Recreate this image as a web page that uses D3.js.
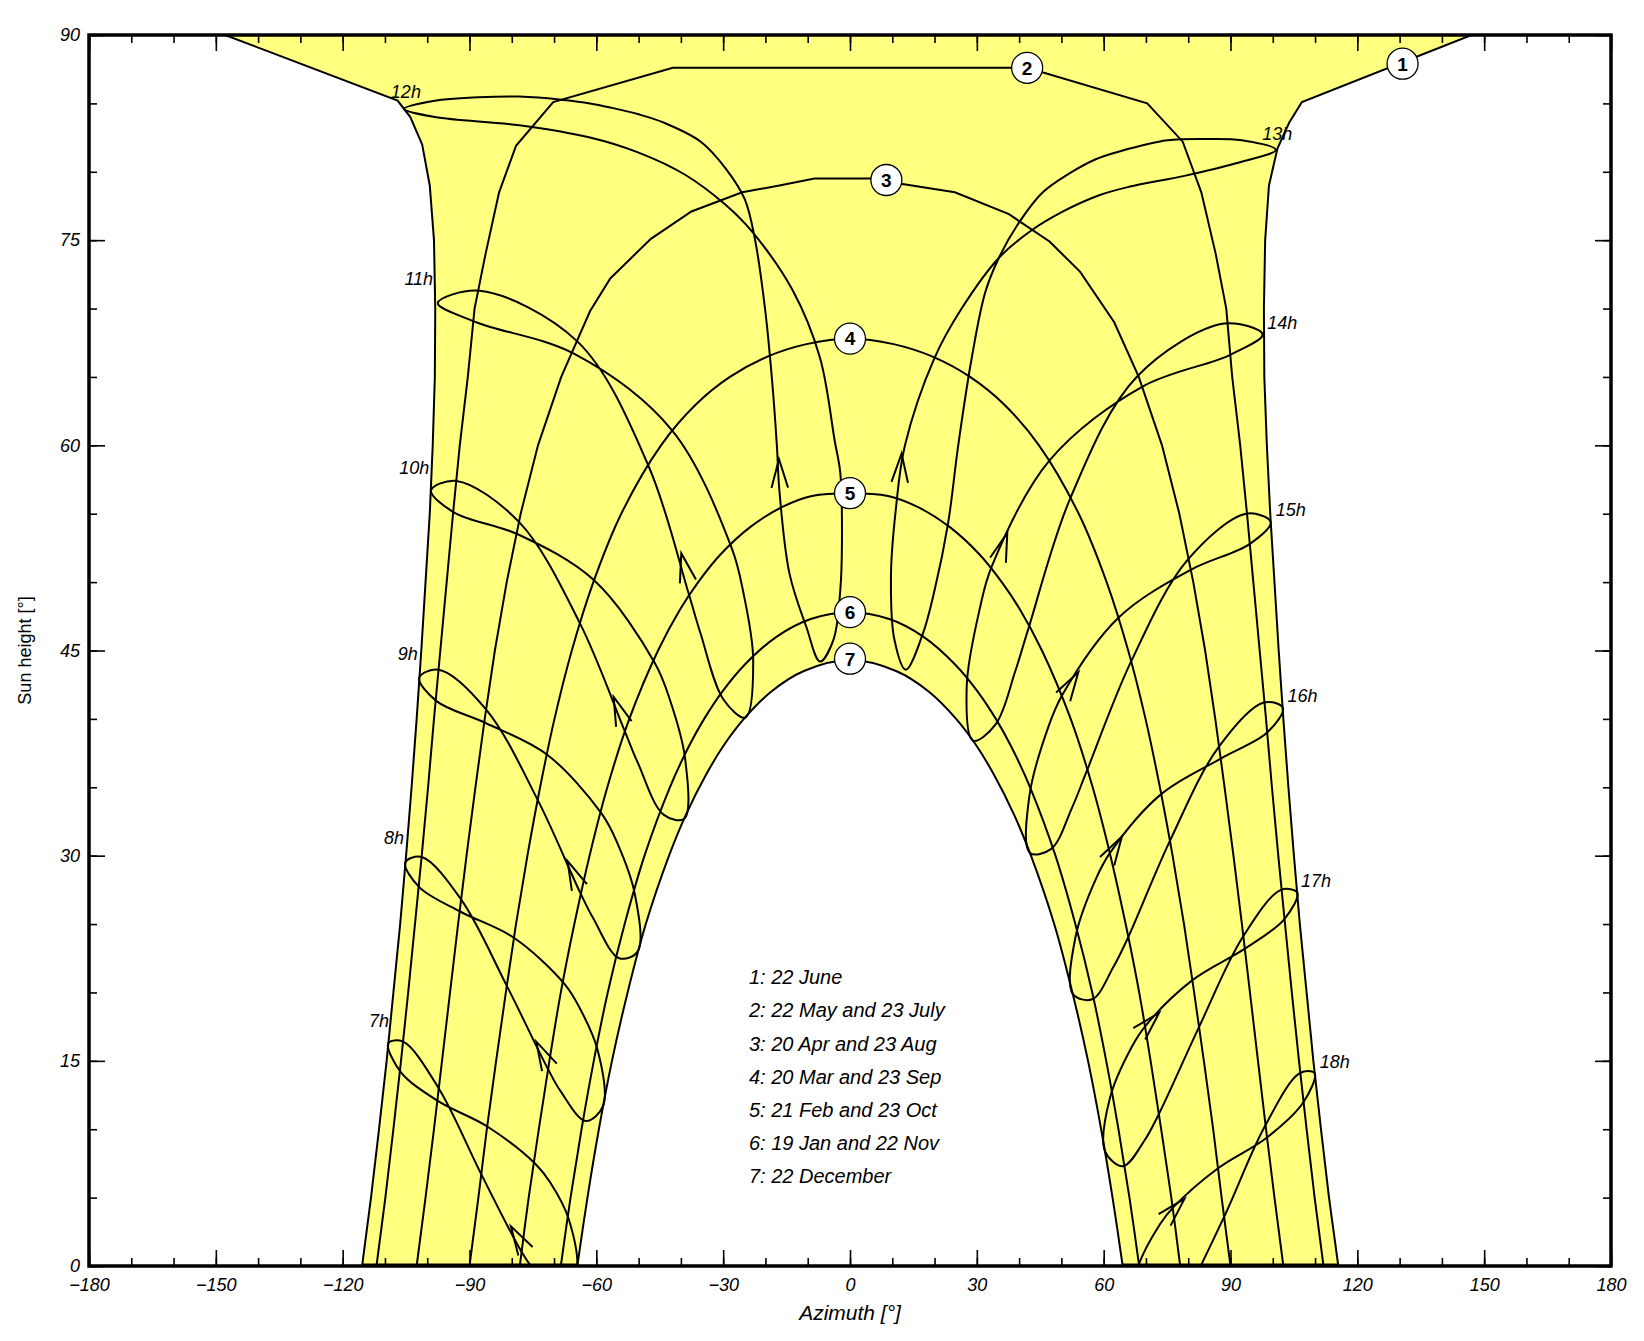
<!DOCTYPE html>
<html>
<head>
<meta charset="utf-8">
<script src="https://cdn.jsdelivr.net/npm/d3@7"></script>
<style>
body { margin: 0; background: #fff; }
text { font-family: "Liberation Sans", Arial, sans-serif; }
</style>
</head>
<body>
<div id="chart"></div>
<script>
// day curves, [azimuth, sun height]
const day1 = [[-115.4,0],[-113.3,5],[-111.4,10],[-109.6,15],[-108,20],[-106.4,25],[-105,30],[-103.7,35],[-102.5,40],[-101.4,45],[-100.4,50],[-99.4,55],[-98.7,60],[-98.2,65],[-98.1,70],[-98.4,75],[-99.4,79],[-101.2,82],[-104,84],[-107,85.2],[-147.8,90],[147,90],[106.9,85.1],[103.9,83.6],[101.1,81.7],[99.1,79],[98.2,75],[97.9,70],[98,65],[98.6,60],[99.4,55],[100.4,50],[101.4,45],[102.5,40],[103.7,35],[105,30],[106.4,25],[108,20],[109.6,15],[111.4,10],[113.3,5],[115.5,0]];
const day2 = [[-112,0],[-109.9,5],[-108,10],[-106.2,15],[-104.5,20],[-102.9,25],[-101.3,30],[-99.8,35],[-98.4,40],[-96.9,45],[-95.4,50],[-93.9,55],[-92.3,60],[-90.4,65],[-88.8,70],[-86.2,74],[-83,78.5],[-79,81.9],[-70.2,85.1],[-41.9,87.6],[41.9,87.6],[70.3,85],[78.7,82.2],[83.1,78.5],[86.5,74],[89,70],[90.4,65],[92.3,60],[93.9,55],[95.4,50],[96.9,45],[98.4,40],[99.8,35],[101.3,30],[102.9,25],[104.5,20],[106.2,15],[108,10],[109.9,5],[112,0]];
const day3 = [[-102.5,0],[-100.4,5],[-98.4,10],[-96.5,15],[-94.6,20],[-92.7,25],[-90.7,30],[-88.6,35],[-86.4,40],[-84,45],[-81.2,50],[-77.9,55],[-73.8,60],[-68.3,65],[-61.5,69.8],[-56.7,72.2],[-47.1,75.1],[-37.5,77.1],[-25.5,78.5],[-16.7,79],[-8.4,79.5],[8.6,79.5],[12.4,79.1],[24.8,78.5],[37.6,76.9],[47.2,74.9],[54.4,72.7],[62.5,69],[68.3,65],[73.8,60],[77.9,55],[81.2,50],[84,45],[86.4,40],[88.6,35],[90.7,30],[92.7,25],[94.6,20],[96.5,15],[98.4,10],[100.4,5],[102.5,0]];
const day4 = [[-90,0],[-87.9,5],[-85.9,10],[-83.7,15],[-81.4,20],[-79,25],[-76.3,30],[-73.3,35],[-69.9,40],[-65.8,45],[-60.7,50],[-54.1,55],[-44.7,60],[-36.4,63],[-28.4,65],[-19.4,66.5],[-10.3,67.4],[0,67.8],[10.3,67.4],[19.4,66.5],[28.4,65],[36.4,63],[44.7,60],[54.1,55],[60.7,50],[65.8,45],[69.9,40],[73.3,35],[76.3,30],[79,25],[81.4,20],[83.7,15],[85.9,10],[87.9,5],[90,0]];
const day5 = [[-78.1,0],[-76,5],[-73.6,10],[-71.1,15],[-68.4,20],[-65.2,25],[-61.6,30],[-57.4,35],[-52.2,40],[-45.4,45],[-40.2,48],[-35.9,50],[-30.7,52],[-23.7,54],[-16,55.5],[-9,56.3],[0,56.5],[9,56.3],[16,55.5],[23.7,54],[30.7,52],[35.9,50],[40.2,48],[45.4,45],[52.2,40],[57.4,35],[61.6,30],[65.2,25],[68.4,20],[71.1,15],[73.6,10],[76,5],[78.1,0]];
const day6 = [[-68.4,0],[-66.1,5],[-63.5,10],[-60.6,15],[-57.3,20],[-53.3,25],[-48.6,30],[-42.6,35],[-38.1,38],[-34.5,40],[-30.2,42],[-24.8,44],[-17.4,46],[-9.3,47.3],[0,47.8],[9.3,47.3],[17.4,46],[24.8,44],[30.2,42],[34.5,40],[38.1,38],[42.6,35],[48.6,30],[53.3,25],[57.3,20],[60.6,15],[63.5,10],[66.1,5],[68.4,0]];
const day7 = [[-64.5,0],[-62.1,5],[-59.4,10],[-56.3,15],[-52.6,20],[-48.3,25],[-42.8,30],[-38.8,33],[-33.9,36],[-30,38],[-25.1,40],[-18.6,42],[-10.9,43.5],[0,44.3],[10.9,43.5],[18.6,42],[25.1,40],[30,38],[33.9,36],[38.8,33],[42.8,30],[48.3,25],[52.6,20],[56.3,15],[59.4,10],[62.1,5],[64.5,0]];

// hour loops (analemmas), points through the year
const hour7 = [[-109.2,16.3],[-106.3,14.2],[-97.4,12.05],[-85.8,10.2],[-74.5,7.5],[-70.9,6.1],[-66.5,3.4],[-64.8,-0.6],[-68.6,-2.0],[-74.7,-0.3],[-77.8,1.1],[-87.2,6.7],[-97.3,13.0],[-105.7,16.4]];
const hour8 = [[-105.2,29.5],[-101.9,27.7],[-92.1,25.9],[-79.5,24.0],[-67.6,20.65],[-64.0,18.9],[-59.7,15.8],[-58.4,11.7],[-62.5,10.6],[-68.5,12.8],[-71.6,14.5],[-81.2,20.5],[-92.0,26.8],[-101.3,29.9]];
const hour9 = [[-101.9,43.0],[-97.8,41.3],[-86.2,39.7],[-71.7,37.4],[-58.7,33.05],[-55.0,30.9],[-50.9,27.2],[-50.2,23.0],[-54.6,22.5],[-60.7,25.4],[-63.9,27.35],[-73.9,34.1],[-86.1,40.7],[-97.3,43.6]];
const hour10 = [[-99.1,56.7],[-93.7,55.1],[-78.6,53.5],[-60.6,50.15],[-46.2,44.1],[-42.6,41.4],[-39.0,37.1],[-39.2,32.7],[-44.1,33.0],[-50.2,36.8],[-53.4,39.2],[-63.9,47.0],[-78.3,54.4],[-93.1,57.4]];
const hour11 = [[-97.5,70.4],[-88.4,69.0],[-65.3,66.7],[-42.1,61.1],[-28.0,52.5],[-25.2,49.2],[-22.9,44.3],[-24.75,40.1],[-29.9,41.4],[-35.4,46.3],[-38.2,49.2],[-47.8,58.6],[-64.5,67.6],[-87.6,71.3]];
const hour12 = [[-105.5,84.6],[-98.2,85.2],[-88,85.45],[-78.2,85.5],[-67.7,85.25],[-61.5,85.0],[-56.7,84.7],[-50,84.2],[-44.1,83.6],[-35.3,82.2],[-29.3,80.2],[-24.9,78.0],[-22.5,75.1],[-20.1,70.0],[-18.5,65],[-17.3,60],[-16.7,56.7],[-14.3,50.6],[-10.3,46.7],[-7.1,44.2],[-3.9,45.8],[-2.3,49.4],[-1.9,53.1],[-2.3,58.0],[-3.6,60.3],[-7.1,66.4],[-13.5,71.3],[-23.1,75.6],[-29.5,77.6],[-39.1,79.8],[-50,81.4],[-61.5,82.5],[-78.2,83.4],[-98.2,84.0]];
const hour13 = [[100.7,81.6],[92.7,82.3],[84.7,82.4],[75.1,82.3],[63.9,81.5],[58,80.9],[52,79.9],[45.6,78.5],[40.0,76.3],[35.2,73.7],[32.0,71.2],[28.8,66.4],[25.6,60.0],[23.2,54.3],[20.0,49.4],[17.2,46.2],[13.2,43.6],[10.5,45.8],[9.7,50.6],[10.9,55.5],[13.0,60.0],[20.0,66.4],[26.4,70.0],[35.2,73.7],[42.4,75.6],[50.4,77.1],[59.1,78.3],[66,78.9],[79.1,79.7],[91.1,80.6]];
const hour14 = [[97.6,68.1],[88.5,68.9],[67.8,65.0],[52.2,56.2],[42.2,46.6],[39.1,43.5],[34.45,39.6],[29.1,38.4],[27.6,42.35],[30.8,48.2],[33.6,51.2],[47.2,58.9],[69.2,64.3],[89.8,66.6]];
const hour15 = [[99.5,54.4],[93.7,55.0],[79.8,51.6],[66.5,44.2],[55.9,36.1],[52.5,33.5],[47.6,30.5],[42.55,30.2],[42.4,34.3],[46.9,39.4],[50.3,41.8],[63.5,47.4],[80.6,50.9],[94.6,52.8]];
const hour16 = [[102.4,40.8],[97.9,41.2],[87.1,37.9],[75.7,31.1],[65.6,23.9],[62.2,21.8],[57.3,19.5],[52.7,19.9],[53.3,24.0],[58.3,28.4],[61.7,30.3],[73.6,34.5],[87.7,37.1],[98.65,39.0]];
const hour17 = [[105.8,27.3],[101.95,27.5],[92.8,24.0],[82.6,17.5],[72.8,10.95],[69.5,9.1],[64.6,7.3],[60.3,8.4],[61.5,12.3],[66.7,16.05],[70.0,17.6],[81.0,20.9],[93.4,23.2],[102.7,25.35]];
const hour18 = [[109.9,14.1],[106.4,14.1],[98.1,10.2],[88.5,3.6],[78.8,-2.5],[75.4,-4.1],[70.4,-5.5],[66.3,-4.05],[67.9,-0.25],[73.2,3.0],[76.5,4.3],[87.05,7.15],[98.65,9.4],[107.2,11.95]];

const hourNames = ["7h","8h","9h","10h","11h","12h","13h","14h","15h","16h","17h","18h"];
const hourLabelPos = [[-113.8,17.5],[-110.2,30.85],[-107.0,44.3],[-106.6,57.9],[-105.4,71.7],[-108.6,85.4],[97.5,82.3],[98.7,68.5],[100.7,54.8],[103.5,41.2],[106.7,27.7],[111.1,14.45]];

const arrowTips = [[-80.2,2.9],[-74.2,16.4],[-66.8,29.6],[-55.9,41.6],[-39.9,52.1],[-16.8,59.0],[12.2,59.4],[37.2,53.6],[54.0,43.4],[64.3,31.4],[73.1,18.5],[79.1,4.9]];
const arrowFrom = [[-76.6,1.0],[-70.9,14.4],[-63.6,27.4],[-53.7,39.8],[-38.3,50.0],[-16.5,55.7],[11.5,56.0],[34.8,51.4],[50.4,41.6],[61.8,30.1],[68.5,17.0],[74.5,3.4]];

const markerNames = ["1","2","3","4","5","6","7"];
const markerPos = [[130.7,87.9],[41.9,87.6],[8.6,79.4],[0,67.8],[0,56.5],[0,47.8],[0,44.4]];

const legendLines = ["1: 22 June","2: 22 May and 23 July","3: 20 Apr and 23 Aug","4: 20 Mar and 23 Sep","5: 21 Feb and 23 Oct","6: 19 Jan and 22 Nov","7: 22 December"];
const legendAnchor = [-23.9, 20.6];

const xTicks = [-180,-150,-120,-90,-60,-30,0,30,60,90,120,150,180];
const yTicks = [0,15,30,45,60,75,90];

var margin = {top:35, right:33, bottom:75, left:89};
var width = 1644 - margin.left - margin.right;
var height = 1341 - margin.top - margin.bottom;

var svg = d3.select("#chart").append("svg")
    .attr("width", 1644)
    .attr("height", 1341)
  .append("g")
    .attr("transform", "translate(" + margin.left + "," + margin.top + ")");

var x = d3.scaleLinear().domain([-180,180]).range([0,width]);
var y = d3.scaleLinear().domain([0,90]).range([height,0]);

svg.append("clipPath").attr("id","plotclip")
  .append("rect").attr("width",width).attr("height",height);

var lineLin = d3.line().x(function(d){return x(d[0]);}).y(function(d){return y(d[1]);});
var lineSmooth = d3.line().x(function(d){return x(d[0]);}).y(function(d){return y(d[1]);})
    .curve(d3.curveCatmullRom.alpha(0.5));
var loopLine = d3.line().x(function(d){return x(d[0]);}).y(function(d){return y(d[1]);})
    .curve(d3.curveCatmullRomClosed.alpha(0.5));

var plot = svg.append("g").attr("clip-path","url(#plotclip)");

// yellow area between 22 June and 22 December
var fillD = lineLin(day1) + lineSmooth(day7.slice().reverse()).replace(/^M/,"L") + "Z";
plot.append("path").attr("d", fillD).attr("fill","#ffff80").attr("stroke","none");

// thick horizon edge under the yellow area
[[day1[0], day7[0]], [day7[day7.length-1], day1[day1.length-1]]].forEach(function(seg){
  plot.append("path").attr("d", lineLin(seg))
    .attr("stroke","#000").attr("stroke-width",5).attr("fill","none");
});

[day1, day2, day3].forEach(function(c){
  plot.append("path").attr("d", lineLin(c))
    .attr("fill","none").attr("stroke","#000").attr("stroke-width",2);
});
[day4, day5, day6, day7].forEach(function(c){
  plot.append("path").attr("d", lineSmooth(c))
    .attr("fill","none").attr("stroke","#000").attr("stroke-width",2);
});

[hour7,hour8,hour9,hour10,hour11,hour12,hour13,hour14,hour15,hour16,hour17,hour18].forEach(function(c){
  plot.append("path").attr("d", loopLine(c))
    .attr("fill","none").attr("stroke","#000").attr("stroke-width",2);
});

// arrow heads on the loops
arrowTips.forEach(function(t,i){
  var f = arrowFrom[i];
  var tx = x(t[0]), ty = y(t[1]);
  var ang = Math.atan2(y(f[1]) - ty, x(f[0]) - tx);
  var len = 30, spread = 16*Math.PI/180;
  var p1 = [tx + len*Math.cos(ang-spread), ty + len*Math.sin(ang-spread)];
  var p2 = [tx + len*Math.cos(ang+spread), ty + len*Math.sin(ang+spread)];
  plot.append("path")
    .attr("d", "M" + p1[0] + "," + p1[1] + "L" + tx + "," + ty + "L" + p2[0] + "," + p2[1])
    .attr("fill","none").attr("stroke","#000").attr("stroke-width",2);
});

// axes: ticks inward on all four sides
function styleAxis(g){
  g.select(".domain").remove();
  g.selectAll(".tick line").attr("stroke","#000").attr("stroke-width",1.6);
  g.selectAll("text").attr("fill","#000").style("font-size","18px").style("font-style","italic");
}
var xMinor = d3.range(-180,181,10), yMinor = d3.range(0,91,5);

svg.append("g").attr("transform","translate(0," + height + ")")
  .call(d3.axisBottom(x).tickValues(xMinor).tickSize(-8).tickFormat(""))
  .call(styleAxis);
svg.append("g").attr("transform","translate(0," + height + ")")
  .call(d3.axisBottom(x).tickValues(xTicks).tickSize(-16).tickPadding(12).tickFormat(d3.format("d")))
  .call(styleAxis);
svg.append("g")
  .call(d3.axisTop(x).tickValues(xMinor).tickSize(-8).tickFormat(""))
  .call(styleAxis);
svg.append("g")
  .call(d3.axisTop(x).tickValues(xTicks).tickSize(-16).tickFormat(""))
  .call(styleAxis);
svg.append("g")
  .call(d3.axisLeft(y).tickValues(yMinor).tickSize(-8).tickFormat(""))
  .call(styleAxis);
svg.append("g")
  .call(d3.axisLeft(y).tickValues(yTicks).tickSize(-16).tickPadding(9).tickFormat(d3.format("d")))
  .call(styleAxis);
svg.append("g").attr("transform","translate(" + width + ",0)")
  .call(d3.axisRight(y).tickValues(yMinor).tickSize(-8).tickFormat(""))
  .call(styleAxis);
svg.append("g").attr("transform","translate(" + width + ",0)")
  .call(d3.axisRight(y).tickValues(yTicks).tickSize(-16).tickFormat(""))
  .call(styleAxis);

svg.append("rect").attr("width",width).attr("height",height)
  .attr("fill","none").attr("stroke","#000").attr("stroke-width",3.5);

// numbered markers
markerPos.forEach(function(p,i){
  svg.append("circle").attr("cx",x(p[0])).attr("cy",y(p[1])).attr("r",15.5)
    .attr("fill","#fff").attr("stroke","#000").attr("stroke-width",1.3);
  svg.append("text").attr("x",x(p[0])).attr("y",y(p[1])).attr("dy","0.36em")
    .attr("text-anchor","middle").style("font-size","19px").style("font-weight","bold")
    .text(markerNames[i]);
});

// hour labels
hourLabelPos.forEach(function(p,i){
  svg.append("text").attr("x",x(p[0])).attr("y",y(p[1]))
    .style("font-size","18px").style("font-style","italic")
    .text(hourNames[i]);
});

// legend text
legendLines.forEach(function(s,i){
  svg.append("text").attr("x",x(legendAnchor[0])).attr("y",y(legendAnchor[1]) + i*33.2)
    .style("font-size","20px").style("font-style","italic")
    .text(s);
});

svg.append("text")
  .attr("transform","translate(" + (width/2) + "," + (height + 54) + ")")
  .style("text-anchor","middle").style("font-size","21px").style("font-style","italic")
  .text("Azimuth [°]");
svg.append("text")
  .attr("transform","rotate(-90)")
  .attr("x", -(height/2)).attr("y", -margin.left + 31)
  .style("text-anchor","middle").style("font-size","18px")
  .text("Sun height [°]");
</script>
</body>
</html>
